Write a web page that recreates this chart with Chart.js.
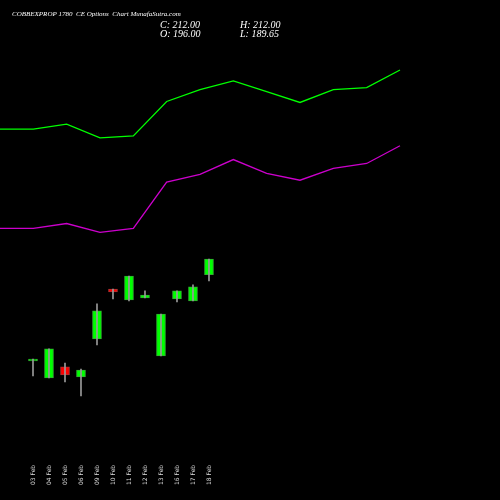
<!DOCTYPE html><html><head><style>html,body{margin:0;background:#000}</style>
<script src="https://cdn.jsdelivr.net/npm/chart.js@4"></script></head><body>
<div style="width:500px;height:500px"><canvas id="c"></canvas></div>
<script>
const dates=["03 Feb","04 Feb","05 Feb","06 Feb","09 Feb","10 Feb","11 Feb","12 Feb","13 Feb","16 Feb","17 Feb","18 Feb"];
const opens=[108.4,91.1,102.3,92.1,130.7,181.5,170.3,172.4,113.4,171.4,169.3,196];
const closes=[110.4,120.6,94.1,99.2,159.2,178.5,194.7,175.4,156.1,179.5,183.6,212];
const highs=[110.4,120.6,106.3,100.2,166.3,181.5,194.7,179.5,156.1,179.5,185.6,212];
const lows=[93.1,91.1,87,72.8,124.6,171.4,169.3,172.4,113.4,168.3,169.3,189.65];
const upper=[344,344,349,335,337,372,384,393,382,371,384,386,404];
const lower=[243,243,248,239,243,290,298,313,299,292,304,309,327];
const up=i=>closes[i]>=opens[i];
const labelsPlugin={id:'lbl',afterDraw(ch){const c=ch.ctx,x=ch.scales.x;c.save();
c.fillStyle='#fff';c.font='italic 7px "Liberation Serif"';c.textBaseline='middle';
c.fillText('COBBEXPROP 1780  CE Options  Chart MunafaSutra.com',12,14);
c.font='italic 10px "Liberation Serif"';
c.fillText('C: 212.00',160,25);c.fillText('O: 196.00',160,34);
c.fillText('H: 212.00',240,25);c.fillText('L: 189.65',240,34);
c.font='6px "DejaVu Sans"';c.fillStyle='#ddd';
dates.forEach((d,i)=>{c.save();c.translate(x.getPixelForValue(i),485);c.rotate(-Math.PI/2);c.textAlign='left';c.fillText(d,0,0);c.restore();});
c.restore();}};
new Chart(document.getElementById('c'),{
data:{datasets:[
{type:'line',xAxisID:'x2',data:upper.map((v,i)=>({x:i,y:v})),borderColor:'#00ff00',borderWidth:1.3,pointRadius:0,tension:0},
{type:'line',xAxisID:'x2',data:lower.map((v,i)=>({x:i,y:v})),borderColor:'#cc00cc',borderWidth:1.3,pointRadius:0,tension:0},
{type:'bar',data:dates.map((d,i)=>({x:i,y:[lows[i],highs[i]]})),backgroundColor:'#999',barThickness:1,grouped:false},
{type:'bar',data:dates.map((d,i)=>({x:i,y:[Math.min(opens[i],closes[i]),Math.max(opens[i],closes[i])+0.001]})),
 backgroundColor:dates.map((d,i)=>up(i)?'#00ff00':'#ff0000'),borderColor:dates.map((d,i)=>up(i)?'#33aa33':'#aa3333'),borderWidth:1,borderSkipped:false,barThickness:9,grouped:false}
]},
options:{animation:false,responsive:true,maintainAspectRatio:false,layout:{padding:0},
plugins:{legend:{display:false},tooltip:{enabled:false}},
scales:{x:{type:'linear',display:false,min:-2.0625,max:29.19,offset:false},
x2:{type:'linear',display:false,min:0,max:15},
y:{display:false,min:-32.9,max:475.1}}},
plugins:[labelsPlugin]});
</script></body></html>
